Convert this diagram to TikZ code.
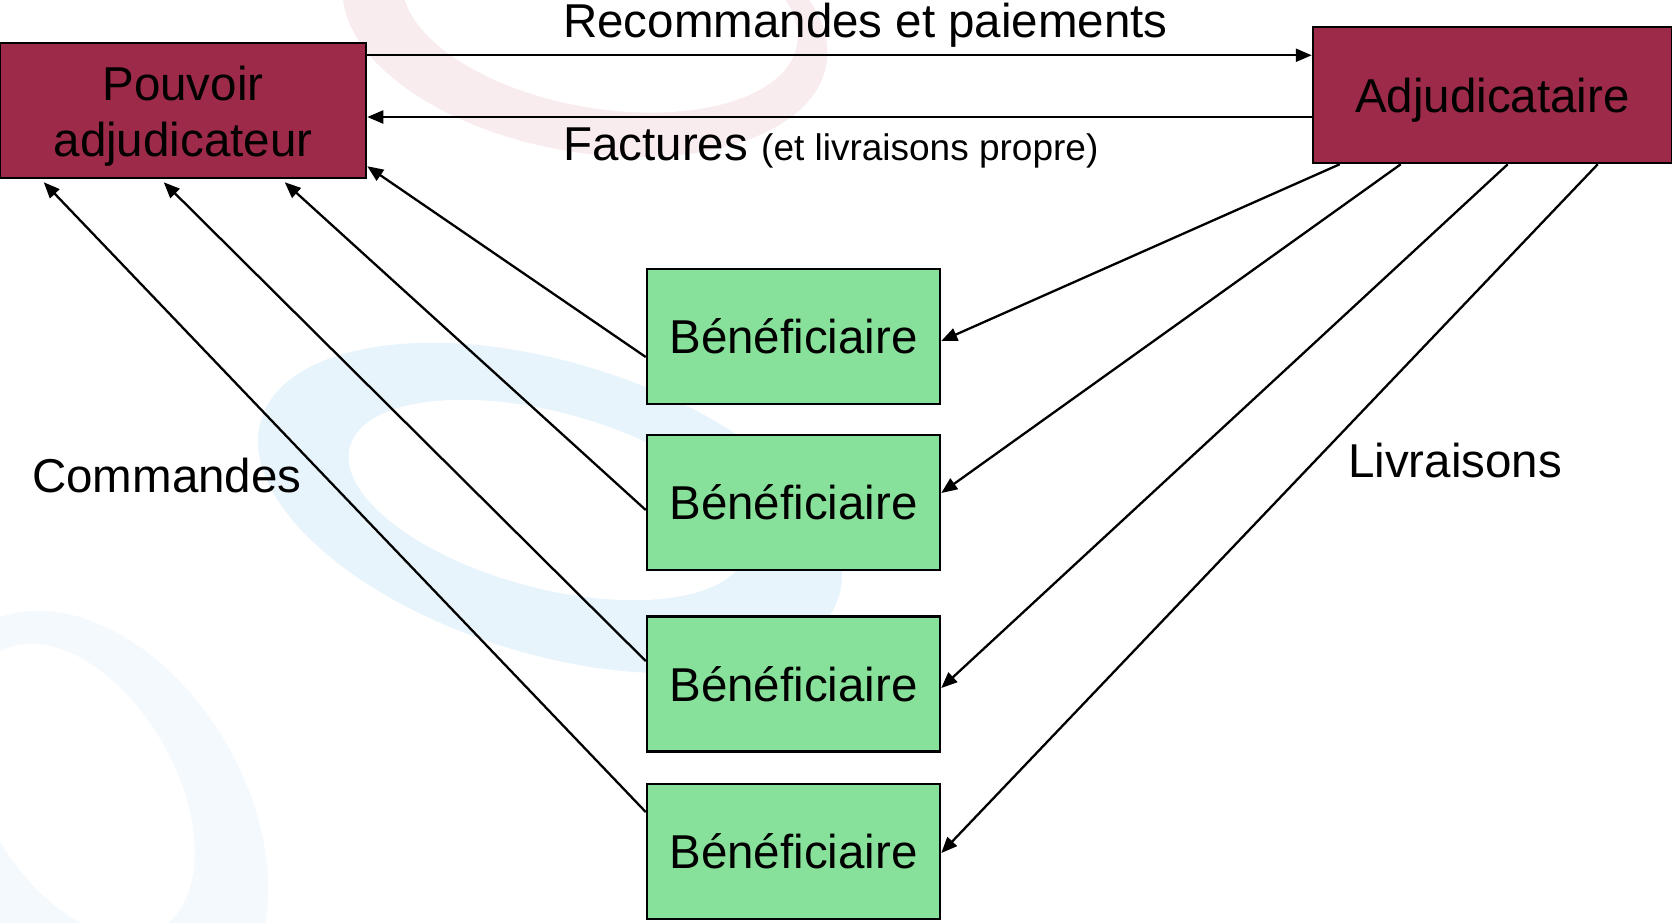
\documentclass[tikz,border=0pt]{standalone}
\usepackage{fontspec}
\setmainfont{Liberation Sans}
\usetikzlibrary{arrows.meta,calc}
\definecolor{maroon}{HTML}{9C2A48}
\definecolor{bgreen}{HTML}{88E19A}
\definecolor{wmpink}{HTML}{F9ECEF}
\definecolor{wmblue}{HTML}{E8F4FB}
\definecolor{wmbluelt}{HTML}{F4F9FD}
\begin{document}
\begin{tikzpicture}[x=1pt,y=-1pt,
  big/.style={font=\fontsize{47.5}{56}\selectfont},
  redbox/.style={draw=black, line width=2.5pt, fill=maroon, inner sep=0pt, big, align=center},
  greenbox/.style={draw=black, line width=2.5pt, fill=bgreen, minimum width=293pt, minimum height=135pt, inner sep=0pt, big},
  arr/.style={line width=2.3pt, -{Triangle[length=16pt,width=13pt]}},
  lbl/.style={inner sep=0pt, anchor=base west, big}]
\useasboundingbox (0,0) rectangle (1672,922);
\fill[white] (0,0) rectangle (1672,922);
% faint watermark rings
\fill[wmpink, rotate around={-10:(585,22)}] (585,22) ellipse [x radius=245pt, y radius=130pt];
\fill[white, rotate around={-10:(600,10)}] (600,10) ellipse [x radius=200pt, y radius=98pt];
\fill[wmblue, rotate around={-17:(550,508)}] (550,508) ellipse [x radius=302pt, y radius=146pt];
\fill[white, rotate around={-15:(548,500)}] (548,500) ellipse [x radius=205pt, y radius=88pt];
\fill[wmbluelt, rotate around={-60:(95,820)}] (95,820) ellipse [x radius=225pt, y radius=152pt];
\fill[white, rotate around={-60:(80,790)}] (80,790) ellipse [x radius=160pt, y radius=95pt];
% boxes
\node[redbox, minimum width=366pt, minimum height=135pt, text height=105pt, text depth=14pt] (pa) at (183,110.5) {Pouvoir\\adjudicateur};
\node[redbox, minimum width=359pt, minimum height=136pt, text height=45pt, text depth=9.8pt] (adj) at (1492.5,95) {Adjudicataire};
\node[greenbox] (b1) at (793.5,336.5) {Bénéficiaire};
\node[greenbox] (b2) at (793.5,502.5) {Bénéficiaire};
\node[greenbox] (b3) at (793.5,684) {Bénéficiaire};
\node[greenbox] (b4) at (793.5,851.5) {Bénéficiaire};
% labels
\node[lbl] (rp) at (563,37) {Recommandes et paiements};
\node[lbl] (fa) at (563,160) {Factures {\fontsize{37}{44}\selectfont (et livraisons propre)}};
\node[lbl] (cmd) at (32,492) {Commandes};
\node[lbl] (liv) at (1348,477) {Livraisons};
% horizontal arrows
\coordinate (t1) at ($(pa.north east)+(0,13.5)$);
\coordinate (t2) at ($(pa.east)+(0,6.5)$);
\draw[arr] (t1) -- (t1 -| adj.west);
\draw[arr] (t2 -| adj.west) -- (t2);
% commandes
\draw[arr] ($(b1.west)+(0,20.5)$) -- ($(pa.south east)+(0,-13)$);
\draw[arr] ($(b2.west)+(0,7.5)$) -- ($(pa.south west)+(286,3)$);
\draw[arr] ($(b3.west)+(0,-23)$) -- ($(pa.south west)+(165,3)$);
\draw[arr] ($(b4.west)+(0,-39.5)$) -- ($(pa.south west)+(45,3)$);
% livraisons
\draw[arr] ($(adj.south west)+(28,0)$) -- ($(b1.east)+(0,4.5)$);
\draw[arr] ($(adj.south west)+(89,0)$) -- ($(b2.east)+(0,-9.5)$);
\draw[arr] ($(adj.south west)+(196,0)$) -- ($(b3.east)+(0,4)$);
\draw[arr] ($(adj.south west)+(286,0)$) -- ($(b4.east)+(0,1.5)$);
\end{tikzpicture}
\end{document}
